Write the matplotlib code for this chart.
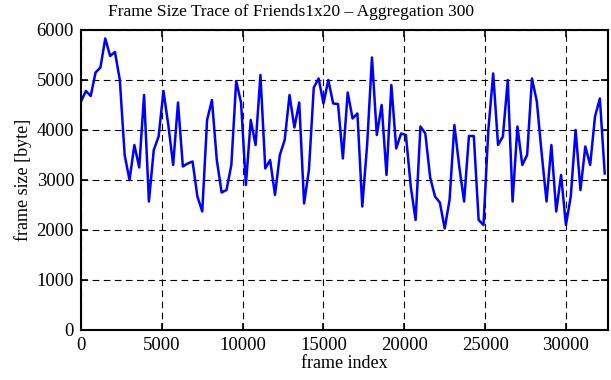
import numpy as np
import matplotlib
matplotlib.use("Agg")
import matplotlib.pyplot as plt

plt.rcParams['font.family'] = ['Liberation Serif', 'DejaVu Serif']

# one value every 300 frames (aggregation 300)
step = 300
frame_size = [
    4570, 4780, 4680, 5150, 5250, 5830, 5480, 5560, 5000, 3500,
    3000, 3700, 3250, 4700, 2570, 3600, 3870, 4780, 4100, 3300,
    4550, 3270, 3330, 3370, 2670, 2370, 4200, 4600, 3400, 2750,
    2800, 3300, 4980, 4550, 2900, 4200, 3700, 5100, 3230, 3400,
    2700, 3500, 3800, 4700, 4050, 4550, 2530, 3200, 4850, 5030,
    4530, 5000, 4530, 4520, 3430, 4750, 4230, 4330, 2470, 3700,
    5450, 3900, 4500, 3100, 4900, 3630, 3930, 3900, 2870, 2200,
    4070, 3930, 3050, 2670, 2550, 2030, 2600, 4100, 3270, 2570,
    3880, 3880, 2200, 2100, 4000, 5130, 3700, 3870, 5000, 2570,
    4070, 3300, 3500, 5030, 4570, 3530, 2570, 3700, 2370, 3100,
    2100, 2670, 4000, 2800, 3670, 3300, 4270, 4630, 3130,
]
frame_index = np.arange(len(frame_size)) * step

fig = plt.figure(figsize=(6.11, 3.8), dpi=100)
ax = fig.add_axes([0.1326, 0.1316, 0.8624, 0.7895])

ax.plot(frame_index, frame_size, color='#0000ff', lw=1.8)

ax.set_xlim(0, 32600)
ax.set_ylim(0, 6000)
ax.set_xticks(np.arange(0, 30001, 5000))
ax.set_yticks(np.arange(0, 6001, 1000))
ax.grid(True, color='black', linestyle=(0, (6, 4)), linewidth=0.8)
ax.tick_params(direction='in', top=True, right=True, length=5, width=1.2,
               labelsize=13.5, pad=5)
for s in ax.spines.values():
    s.set_linewidth(1.5)

# title is centred on the canvas, not on the axes
fig.text(291 / 611, 1 - 12 / 380, 'Frame Size Trace of Friends1x20 – Aggregation 300',
         fontsize=12.5, ha='center', va='center')
ax.set_xlabel('frame index', fontsize=13, labelpad=1)
ax.set_ylabel('frame size [byte]', fontsize=13, labelpad=3)

fig.savefig('out.png', dpi=100)
